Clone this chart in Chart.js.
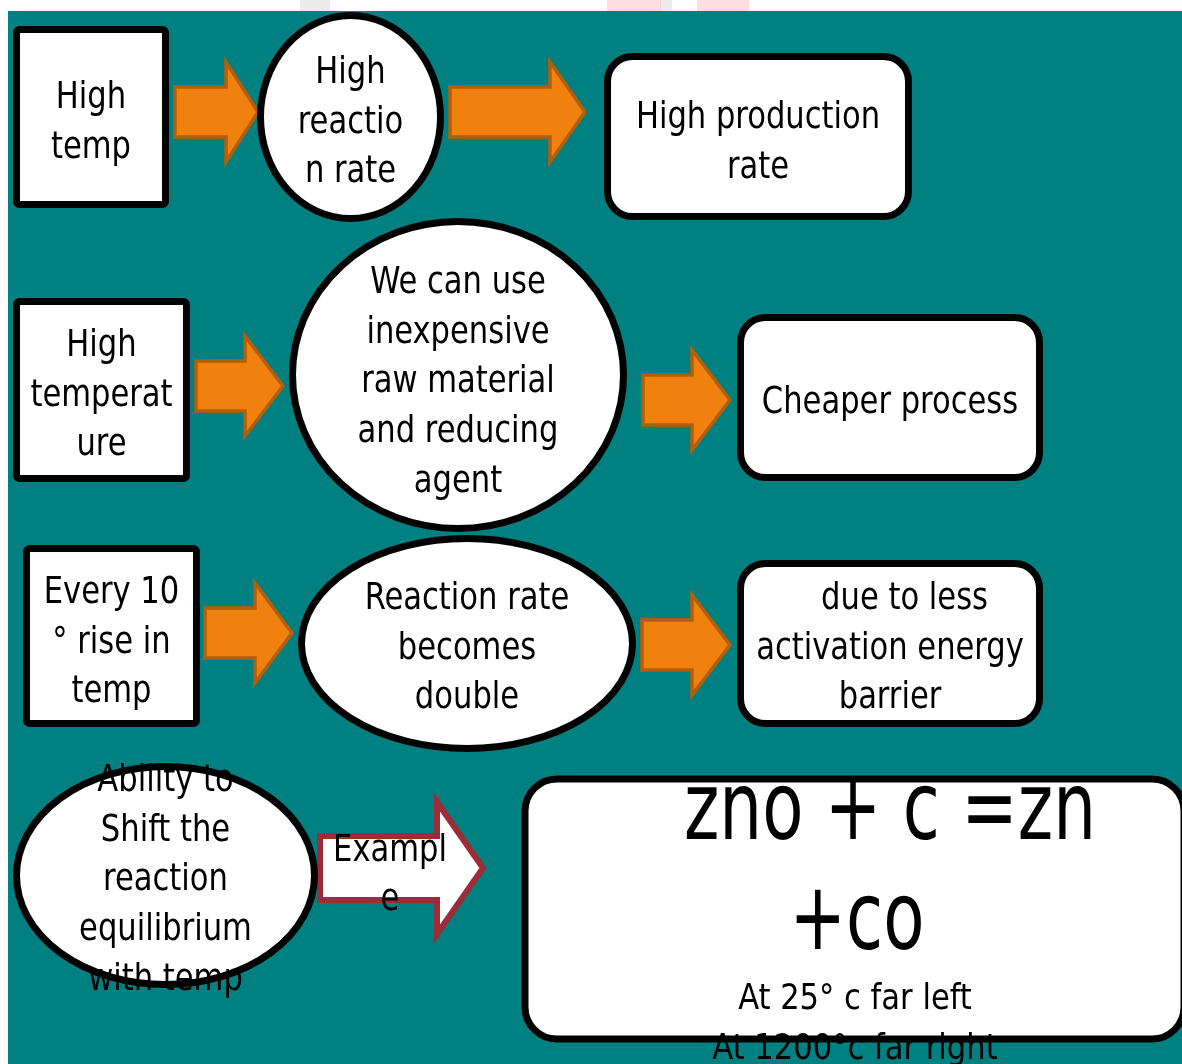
<!DOCTYPE html>
<html>
<head>
<meta charset="utf-8">
<script src="https://cdn.jsdelivr.net/npm/chart.js@4/dist/chart.umd.min.js"></script>
<style>
  html, body { margin: 0; padding: 0; background: #ffffff; }
  #wrap { width: 1182px; height: 1064px; position: relative; }
</style>
</head>
<body>
<div id="wrap"><canvas id="flow"></canvas></div>
<script>
// ============ 1. DATA (diagram units = page pixels) ==============
const nodeLabels = [
  ["High", "temp"],
  ["High", "reactio", "n rate"],
  ["High production", "rate"],
  ["High", "temperat", "ure"],
  ["We can use", "inexpensive", "raw material", "and reducing", "agent"],
  ["Cheaper process"],
  ["Every 10", "° rise in", "temp"],
  ["Reaction rate", "becomes", "double"],
  ["   due to less", "activation energy", "barrier"],
  ["Ability to", "Shift the", "reaction", "equilibrium", "with temp"]
];
const nodeShapes = ["box", "ellipse", "round", "box", "ellipse", "round", "box", "ellipse", "round", "ellipse"];
// left, top, right, bottom of each node
const nodeLeft   = [13, 257, 604, 13, 289, 737, 23, 298, 737, 13];
const nodeTop    = [26, 12, 53, 298, 218, 314, 545, 535, 560, 763];
const nodeRight  = [169, 444, 912, 190, 627, 1043, 200, 636, 1043, 318];
const nodeBottom = [208, 222, 220, 482, 532, 481, 727, 752, 727, 988];
const firstLineY = [98, 73, 118, 346, 283, 403, 593, 599, 599, 781];

// arrows: start, head start, tip, centre y
const arrowStart = [175, 450, 196, 643, 205, 642];
const arrowHead  = [226, 550, 245, 692, 255, 692];
const arrowTip   = [258, 585, 283, 730, 292, 730];
const arrowY     = [112, 112, 386, 400, 633, 645];

const exampleLabel = ["Exampl", "e"];
const equationLines = ["zno + c =zn", "+co"];
const noteLines = ["At 25° c far left", "At 1200°c far right"];

// ============ 2. CHART ==============
const FONT = '"DejaVu Sans Condensed", "DejaVu Sans", sans-serif';

const diagramPlugin = {
  id: "diagram",
  beforeDatasetsDraw(chart) {
    const ctx = chart.ctx;
    const sx = chart.scales.x, sy = chart.scales.y;
    const px = v => sx.getPixelForValue(v);
    const py = v => sy.getPixelForValue(v);

    // background slide
    ctx.save();
    ctx.fillStyle = "#ffffff";
    ctx.fillRect(0, 0, chart.width, chart.height);
    ctx.fillStyle = "rgba(200,200,200,0.35)";
    ctx.fillRect(px(300), py(0), px(30) - px(0), py(11) - py(0));
    ctx.fillRect(px(660), py(0), px(12) - px(0), py(11) - py(0));
    ctx.fillStyle = "rgba(255,190,190,0.5)";
    ctx.fillRect(px(607), py(0), px(54) - px(0), py(11) - py(0));
    ctx.fillRect(px(697), py(0), px(52) - px(0), py(11) - py(0));
    ctx.fillStyle = "#008080";
    ctx.fillRect(px(8), py(11), px(1182) - px(8), py(1064) - py(11));
    ctx.restore();

    function arrowPath(x0, xh, xt, yc, hs, hh) {
      ctx.beginPath();
      ctx.moveTo(px(x0), py(yc - hs));
      ctx.lineTo(px(xh), py(yc - hs));
      ctx.lineTo(px(xh), py(yc - hh));
      ctx.lineTo(px(xt), py(yc));
      ctx.lineTo(px(xh), py(yc + hh));
      ctx.lineTo(px(xh), py(yc + hs));
      ctx.lineTo(px(x0), py(yc + hs));
      ctx.closePath();
    }

    // orange arrows
    ctx.save();
    ctx.lineJoin = "miter";
    for (let i = 0; i < arrowStart.length; i++) {
      arrowPath(arrowStart[i], arrowHead[i], arrowTip[i], arrowY[i], 25, 50);
      ctx.fillStyle = "#F0810F";
      ctx.fill();
      ctx.lineWidth = 3.5;
      ctx.strokeStyle = "#B45E08";
      ctx.stroke();
    }
    // red outlined "Example" arrow
    arrowPath(320, 437, 483, 868, 32, 66);
    ctx.fillStyle = "#ffffff";
    ctx.fill();
    ctx.lineWidth = 6;
    ctx.strokeStyle = "#9E2B38";
    ctx.stroke();
    ctx.restore();

    // nodes
    ctx.save();
    ctx.lineWidth = 7;
    ctx.strokeStyle = "#000000";
    ctx.fillStyle = "#ffffff";
    for (let i = 0; i < nodeLabels.length; i++) {
      const l = px(nodeLeft[i]), t = py(nodeTop[i]);
      const r = px(nodeRight[i]), b = py(nodeBottom[i]);
      ctx.beginPath();
      if (nodeShapes[i] === "ellipse") {
        ctx.ellipse((l + r) / 2, (t + b) / 2, (r - l) / 2 - 3.5, (b - t) / 2 - 3.5, 0, 0, Math.PI * 2);
      } else if (nodeShapes[i] === "round") {
        ctx.roundRect(l + 3.5, t + 3.5, r - l - 7, b - t - 7, 25);
      } else {
        ctx.roundRect(l + 3.5, t + 3.5, r - l - 7, b - t - 7, 3);
      }
      ctx.fill();
      ctx.stroke();
    }
    // equation box
    ctx.beginPath();
    ctx.roundRect(px(525), py(779), px(1184) - px(525), py(1039) - py(779), 32);
    ctx.fill();
    ctx.stroke();
    ctx.restore();

    // text
    function drawLine(text, x, y, size, stretch) {
      ctx.save();
      ctx.translate(px(x), py(y));
      ctx.scale(1, stretch);
      ctx.font = size + "px " + FONT;
      ctx.fillStyle = "#000000";
      ctx.textAlign = "center";
      ctx.textBaseline = "middle";
      ctx.fillText(text, 0, 0);
      ctx.restore();
    }
    for (let i = 0; i < nodeLabels.length; i++) {
      const cx = (nodeLeft[i] + nodeRight[i]) / 2;
      nodeLabels[i].forEach((line, k) => drawLine(line, cx, firstLineY[i] + k * 49.7, 34, 1.12));
    }
    exampleLabel.forEach((line, k) => drawLine(line, 390, 851 + k * 49, 34, 1.12));
    drawLine(equationLines[0], 890, 815, 75, 1.25);
    drawLine(equationLines[1], 857, 925, 75, 1.25);
    noteLines.forEach((line, k) => drawLine(line, 855, 1000 + k * 50, 34, 1.05));
  }
};

const allLeft = nodeLeft.concat(arrowStart);
const allTop = nodeTop.concat(arrowY);

new Chart(document.getElementById("flow"), {
  type: "scatter",
  data: {
    datasets: [{
      label: "nodes",
      data: allLeft.map((x, i) => ({ x: x, y: allTop[i] })),
      pointRadius: 0,
      pointHoverRadius: 0
    }]
  },
  options: {
    responsive: true,
    maintainAspectRatio: false,
    animation: false,
    events: [],
    layout: { padding: 0 },
    plugins: { legend: { display: false }, tooltip: { enabled: false } },
    scales: {
      x: { type: "linear", min: 0, max: 1182, display: false },
      y: { type: "linear", min: 0, max: 1064, reverse: true, display: false }
    }
  },
  plugins: [diagramPlugin]
});
</script>
</body>
</html>
